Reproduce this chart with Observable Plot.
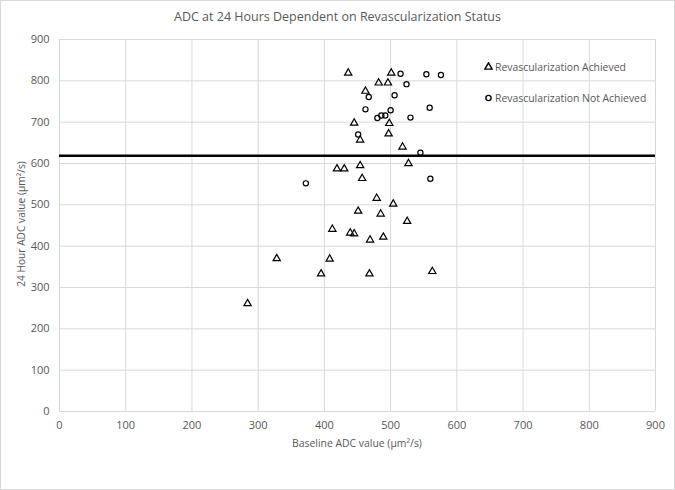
<!DOCTYPE html>
<html>
<head>
<meta charset="utf-8">
<script src="https://cdn.jsdelivr.net/npm/d3@7"></script>
<script src="https://cdn.jsdelivr.net/npm/@observablehq/plot@0.6"></script>
<style>
  html, body { margin: 0; padding: 0; background: #fff; }
  #wrap { position: relative; width: 675px; height: 490px; font-family: "Open Sans", sans-serif; color: #595959; overflow: hidden; }
  #border { position: absolute; left: 0; top: 0; width: 673px; height: 488px; border: 1px solid #d9d9d9; pointer-events: none; }
  .txt { position: absolute; white-space: nowrap; color: #595959; }
  #title { left: 0; width: 675px; top: 7px; text-align: center; font-size: 12.5px; line-height: 20px; }
  #xtitle { left: 59px; width: 596px; top: 435px; text-align: center; font-size: 10.4px; line-height: 16px; }
  #ytitle { left: 21px; top: 224px; font-size: 10.2px; line-height: 16px; transform: translate(-50%, -50%) rotate(-90deg); }
  .leg { position: absolute; left: 483px; font-size: 10.4px; line-height: 14px; display: flex; align-items: center; white-space: nowrap; color: #595959; }
  .leg svg { margin-right: 1px; }
</style>
</head>
<body>
<div id="wrap">
  <div id="plot"></div>
  <div id="title" class="txt">ADC at 24 Hours Dependent on Revascularization Status</div>
  <div id="xtitle" class="txt">Baseline ADC value (µm²/s)</div>
  <div id="ytitle" class="txt">24 Hour ADC value (µm²/s)</div>
  <div class="leg" style="top:59.5px"><svg width="11" height="10" viewBox="-5.5 -5 11 10"><path id="legTri" fill="none" stroke="#000" stroke-width="1.4"></path></svg>Revascularization Achieved</div>
  <div class="leg" style="top:91px"><svg width="11" height="10" viewBox="-5.5 -5 11 10"><circle r="2.6" fill="none" stroke="#000" stroke-width="1.4"></circle></svg>Revascularization Not Achieved</div>
  <div id="border"></div>
</div>
<script>
// ---- data ----
const xTicks = [0, 100, 200, 300, 400, 500, 600, 700, 800, 900];
const yTicks = [0, 100, 200, 300, 400, 500, 600, 700, 800, 900];

const achievedBaseline = [436, 501, 482, 496, 462, 445, 498, 497, 454, 518, 527, 419, 430, 454, 457, 479, 504, 451, 485, 525, 412, 439, 445, 469, 489, 328, 408, 395, 468, 563, 284];
const achieved24h      = [819, 819, 795, 795, 775, 698, 697, 672, 657, 640, 600, 587, 587, 595, 564, 516, 502, 485, 478, 460, 441, 432, 430, 415, 422, 370, 369, 333, 333, 339, 261];

const notAchievedBaseline = [515, 554, 576, 524, 467, 506, 462, 500, 559, 480, 486, 492, 530, 451, 545, 372, 560];
const notAchieved24h      = [817, 816, 814, 792, 761, 765, 731, 729, 735, 710, 716, 716, 711, 670, 626, 552, 563];

const threshold = [619];

const achieved = achievedBaseline.map((b, i) => ({baseline: b, h24: achieved24h[i]}));
const notAchieved = notAchievedBaseline.map((b, i) => ({baseline: b, h24: notAchieved24h[i]}));

// legend triangle from the same symbol
document.getElementById("legTri").setAttribute("d", d3.symbol(d3.symbolTriangle, Math.PI * 2.7 * 2.7)());

const chart = Plot.plot({
  width: 675,
  height: 490,
  marginLeft: 59,
  marginRight: 20,
  marginTop: 39,
  marginBottom: 79,
  style: {fontFamily: "Open Sans, sans-serif", fontSize: "11px", color: "#595959", background: "transparent"},
  x: {domain: [0, 900]},
  y: {domain: [0, 900]},
  marks: [
    Plot.gridX(xTicks, {stroke: "#d9d9d9", strokeOpacity: 1, strokeWidth: 1}),
    Plot.gridY(yTicks, {stroke: "#d9d9d9", strokeOpacity: 1, strokeWidth: 1}),
    Plot.axisX(xTicks, {tickSize: 0, tickPadding: 10, label: null, fill: "#595959", fontSize: 11}),
    Plot.axisY(yTicks, {tickSize: 0, tickPadding: 10, label: null, fill: "#595959", fontSize: 11}),
    Plot.dot(achieved, {x: "baseline", y: "h24", symbol: "triangle", r: 2.7, stroke: "#000", strokeWidth: 1.2, fill: "none"}),
    Plot.dot(notAchieved, {x: "baseline", y: "h24", symbol: "circle", r: 2.6, stroke: "#000", strokeWidth: 1.2, fill: "none"}),
    Plot.ruleY(threshold, {stroke: "#000", strokeWidth: 2.5})
  ]
});
document.getElementById("plot").appendChild(chart);
</script>
</body>
</html>
